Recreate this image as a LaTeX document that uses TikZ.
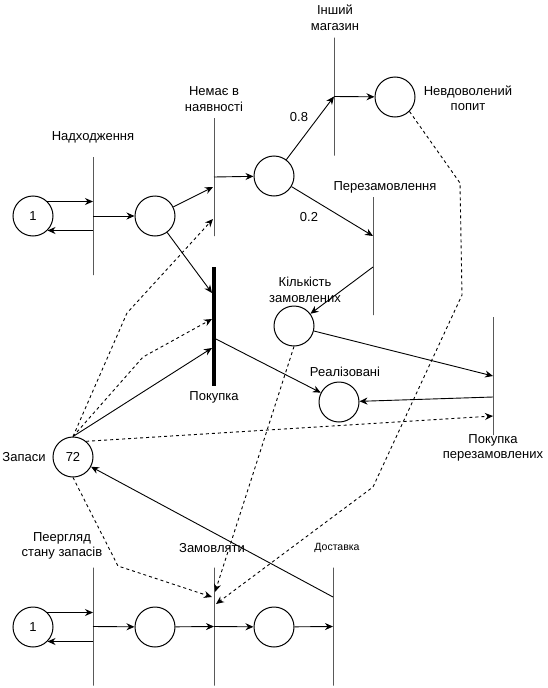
\documentclass[tikz,border=0pt]{standalone}
\usepackage{fontspec}
\setmainfont{Liberation Sans}
\usetikzlibrary{arrows.meta}
\begin{document}
\begin{tikzpicture}[x=1pt,y=-1pt,
  place/.style={draw,circle,minimum size=40pt,inner sep=0pt,line width=1pt,font=\fontsize{13}{15.5}\selectfont},
  trans/.style={draw,rectangle,minimum width=0pt,minimum height=118pt,inner sep=0pt,outer sep=0pt,line width=1pt},
  thickbar/.style={fill=black,rectangle,minimum width=4pt,minimum height=119pt,inner sep=0pt,outer sep=0pt},
  arr/.style={line width=0.9pt,-{Stealth[length=8pt,width=7pt]}},
  darr/.style={arr,dash pattern=on 3pt off 3pt},
  lbl/.style={font=\fontsize{13}{15.5}\selectfont,align=center,inner sep=0pt},
  ]
\useasboundingbox (0,0) rectangle (547,688);

% ---- places
\node[place] (p1) at (33,216) {1};
\node[place] (p2) at (155,216) {};
\node[place] (p3) at (274,176) {};
\node[place] (p4) at (395,97) {};
\node[place] (p5) at (294,326) {};
\node[place] (p6) at (339,402) {};
\node[place] (p7) at (73,457) {72};
\node[place] (q1) at (33,627) {1};
\node[place] (q2) at (155,627) {};
\node[place] (q3) at (274,627) {};

% ---- transitions
\node[trans] (t1) at (93,216) {};
\node[trans] (t2) at (214,177) {};
\node[trans] (t3) at (334,96.5) {};
\node[trans] (t4) at (373,256) {};
\node[thickbar] (tb) at (214,326.5) {};
\node[trans] (t5) at (493,376) {};
\node[trans] (t6) at (93,626.5) {};
\node[trans] (t7) at (214,626.5) {};
\node[trans] (t8) at (333,626.5) {};

% ---- connection points
\coordinate (t2in) at (213,187);
\coordinate (t2d) at (213,219);
\coordinate (tb1) at (212,293);
\coordinate (tb2) at (212,319);
\coordinate (tb3) at (212,348);
\coordinate (tbout) at (214,338);
\coordinate (t4in) at (373,236);
\coordinate (t4out) at (373,267);
\coordinate (t5in) at (493,376);
\coordinate (t5out) at (493,397);
\coordinate (t5d) at (493,416);
\coordinate (t7a) at (212,597);
\coordinate (t7b) at (215,592);
\coordinate (t7c) at (216,604);
\coordinate (t8out) at (333,597);

% ---- labels
\node[lbl] at (93,137) {Надходження};
\node[lbl] at (214,99) {Немає в\\наявності};
\node[lbl] at (335,17.5) {Інший\\магазин};
\node[lbl] at (468,98) {Невдоволений\\попит};
\node[lbl] at (385,187) {Перезамовлення};
\node[lbl] at (299,117) {0.8};
\node[lbl] at (309,217) {0.2};
\node[lbl] at (305,290) {Кількість\\замовлених};
\node[lbl] at (345,372) {Реалізовані};
\node[lbl] at (214,397) {Покупка};
\node[lbl] at (493,448) {Покупка\\перезамовлених};
\node[lbl] at (24,457) {Запаси};
\node[lbl] at (62,546) {Пеергляд\\стану запасів};
\node[lbl] at (212,548) {Замовляти};
\node[lbl,font=\fontsize{10.5}{12}\selectfont] at (337,548) {Доставка};

% ---- solid arcs
\draw[arr] (p1.45) -- (p1.45 -| t1.center);
\draw[arr] (t1.center |- p1.-45) -- (p1.-45);
\draw[arr] (t1.center) -- (p2);
\draw[arr] (p2) -- (t2in);
\draw[arr] (p2) -- (tb1);
\draw[arr] (t2.center) -- (p3);
\draw[arr] (p3) -- (t3.center);
\draw[arr] (t3.center) -- (p4);
\draw[arr] (p3) -- (t4in);
\draw[arr] (t4out) -- (p5);
\draw[arr] (p5) -- (t5in);
\draw[arr] (t5out) -- (p6);
\draw[arr] (tbout) -- (p6);
\draw[arr] (p7.north) -- (tb3);
\draw[arr] (t8out) -- (p7);

% ---- dashed arcs
\draw[darr] (p7.north) -- (127,313) -- (t2d);
\draw[darr] (p7.north) -- (143,357) -- (tb2);
\draw[darr] (p7.50) -- (t5d);
\draw[darr] (p7.south) -- (118,566) -- (t7a);
\draw[darr] (p5.south) -- (t7b);
\draw[darr] (p4.-45) -- (460,183) -- (462,295) -- (373,487) -- (t7c);

% ---- bottom row
\draw[arr] (q1.45) -- (q1.45 -| t6.center);
\draw[arr] (t6.center |- q1.-45) -- (q1.-45);
\draw[arr] (t6.center) -- (q2);
\draw[arr] (q2) -- (t7.center);
\draw[arr] (t7.center) -- (q3);
\draw[arr] (q3) -- (t8.center);
\end{tikzpicture}
\end{document}
